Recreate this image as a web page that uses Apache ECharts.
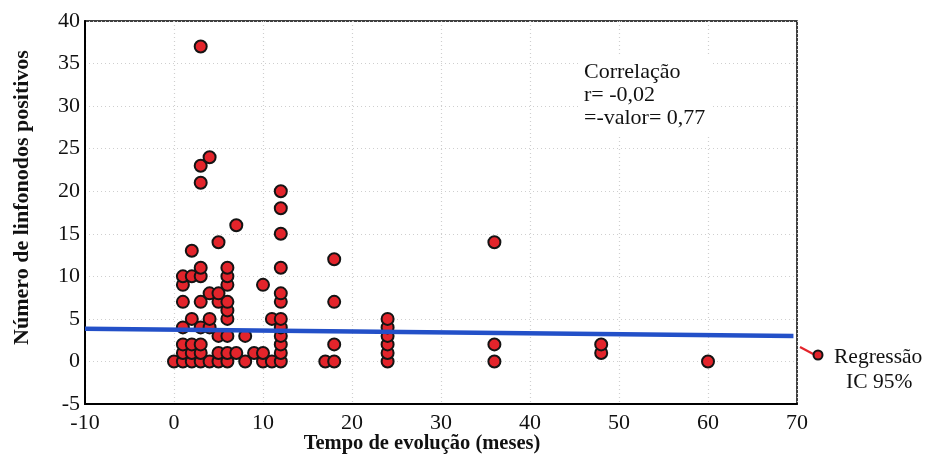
<!DOCTYPE html>
<html>
<head>
<meta charset="utf-8">
<script src="https://cdn.jsdelivr.net/npm/echarts@6/dist/echarts.min.js"></script>
<style>
html,body{margin:0;padding:0;background:#fff;}
#chart{width:926px;height:462px;}
</style>
</head>
<body>
<div id="chart"></div>
<script>
// Data (months of evolution, positive lymph nodes)
var months = [
  0,
  1,1,1,1,1,1,1,
  2,2,2,2,2,2,
  3,3,3,3,3,3,3,3,3,3,
  4,4,4,4,4,
  5,5,5,5,5,5,
  6,6,6,6,6,6,6,6,6,
  7,7,
  8,8,
  9,
  10,10,10,
  11,11,
  12,12,12,12,12,12,12,12,12,12,12,12,
  17,
  18,18,18,18,
  24,24,24,24,24,24,
  36,36,36,
  48,48,
  60
];
var nodes = [
  0,
  0,1,2,4,7,9,10,
  0,1,2,5,10,13,
  0,1,2,4,7,10,11,21,23,37,
  0,4,5,8,24,
  0,1,3,7,8,14,
  0,1,3,5,6,7,9,10,11,
  1,16,
  0,3,
  1,
  0,1,9,
  0,5,
  0,1,2,3,4,5,7,8,11,15,18,20,
  0,
  0,2,7,12,
  0,1,2,3,4,5,
  0,2,14,
  1,2,
  0
];
// Regression line end points
var regX = [-10, 69.6];
var regY = [3.85, 3.0];

var xTicks = {min: -10, max: 70, interval: 10};
var yTicks = {min: -5, max: 40, interval: 5};

var annotationLines = ['Correlação', 'r= -0,02', '=-valor= 0,77'];
var legendLines = ['Regressão', 'IC 95%'];

var FONT = 'Liberation Serif';

var scatterData = months.map(function (m, i) { return [m, nodes[i]]; });
var regData = regX.map(function (x, i) { return [x, regY[i]]; });

var chart = echarts.init(document.getElementById('chart'));

chart.setOption({
  animation: false,
  backgroundColor: '#ffffff',
  grid: {
    left: 85, right: 129, top: 21, bottom: 58,
    outerBoundsMode: 'none',
    containLabel: false,
    show: true, borderColor: '#000', borderWidth: 1.5, backgroundColor: '#fff'
  },
  xAxis: {
    type: 'value',
    min: xTicks.min, max: xTicks.max, interval: xTicks.interval,
    axisLine: {show: true, onZero: false, lineStyle: {color: '#000', width: 2}},
    axisTick: {show: false},
    axisLabel: {color: '#111', fontFamily: FONT, fontSize: 22, margin: 8},
    splitLine: {show: true, lineStyle: {color: '#cfcfcf', type: [1, 3], width: 1.2}},
    name: 'Tempo de evolução (meses)',
    nameLocation: 'middle',
    nameGap: 29,
    nameMoveOverlap: false,
    nameTextStyle: {color: '#111', fontFamily: FONT, fontWeight: 'bold', fontSize: 20.5, padding: [0, 38, 0, 0]}
  },
  yAxis: {
    type: 'value',
    min: yTicks.min, max: yTicks.max, interval: yTicks.interval,
    axisLine: {show: true, onZero: false, lineStyle: {color: '#000', width: 2}},
    axisTick: {show: false},
    axisLabel: {color: '#111', fontFamily: FONT, fontSize: 22, margin: 5},
    splitLine: {show: true, lineStyle: {color: '#cfcfcf', type: [1, 3], width: 1.2}},
    name: 'Número de linfonodos positivos',
    nameLocation: 'middle',
    nameGap: 52,
    nameMoveOverlap: false,
    nameTextStyle: {color: '#111', fontFamily: FONT, fontWeight: 'bold', fontSize: 22, padding: [0, 0, 0, 30]}
  },
  series: [
    {
      type: 'scatter',
      name: 'Regressão',
      data: scatterData,
      symbol: 'circle',
      symbolSize: 12,
      itemStyle: {color: '#e3242b', borderColor: '#141414', borderWidth: 2, opacity: 1},
      z: 3
    },
    {
      type: 'line',
      data: regData,
      showSymbol: false,
      symbol: 'none',
      lineStyle: {color: '#2350c8', width: 4.5},
      z: 4
    }
  ],
  graphic: [
    {
      type: 'text',
      left: 578, top: 57,
      z: 10,
      style: {
        text: annotationLines.join('\n'),
        font: '22px "' + FONT + '"',
        fill: '#111',
        lineHeight: 23,
        backgroundColor: '#fff',
        padding: [4, 6, 6, 6]
      }
    },
    {
      type: 'line',
      z: 10,
      shape: {x1: 800, y1: 347, x2: 815, y2: 355},
      style: {stroke: '#e3242b', lineWidth: 2}
    },
    {
      type: 'circle',
      z: 11,
      shape: {cx: 818, cy: 355, r: 4.5},
      style: {fill: '#e3242b', stroke: '#141414', lineWidth: 2}
    },
    {
      type: 'text',
      left: 834, top: 346,
      z: 10,
      style: {
        text: legendLines[0],
        font: '21.5px "' + FONT + '"',
        fill: '#111'
      }
    },
    {
      type: 'text',
      left: 846, top: 371,
      z: 10,
      style: {
        text: legendLines[1],
        font: '21.5px "' + FONT + '"',
        fill: '#111'
      }
    }
  ]
});
</script>
</body>
</html>
